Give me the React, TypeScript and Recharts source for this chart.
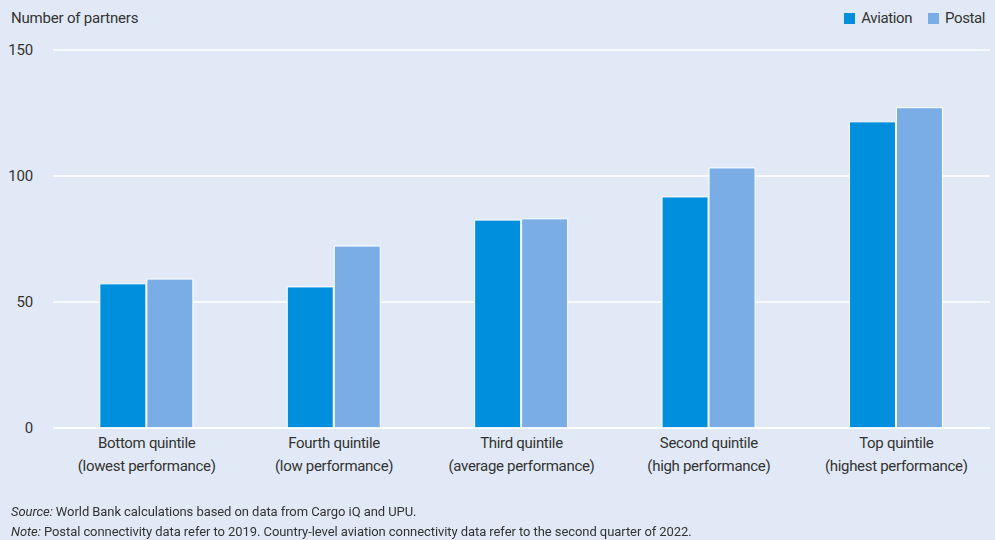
import { Bar, BarChart, CartesianGrid, XAxis, YAxis } from "recharts";

const categories = [
  ["Bottom quintile", "(lowest performance)"],
  ["Fourth quintile", "(low performance)"],
  ["Third quintile", "(average performance)"],
  ["Second quintile", "(high performance)"],
  ["Top quintile", "(highest performance)"],
];
const aviation = [57.2, 56, 82.5, 91.7, 121.5];
const postal = [59.1, 72.2, 83, 103.2, 127.1];
const yTicks = [0, 50, 100, 150];

const data = categories.map((c, i) => ({
  name: c.join("\n"),
  aviation: aviation[i],
  postal: postal[i],
}));

const FONT = "Roboto, 'Liberation Sans', sans-serif";
const TEXT = "#333";

function CategoryTick({ x, y, payload }: any) {
  const lines = String(payload.value).split("\n");
  return (
    <text x={x} y={y} textAnchor="middle" fill={TEXT} fontSize={15} fontFamily={FONT} letterSpacing={-0.3}>
      {lines.map((l, i) => (
        <tspan key={i} x={x} dy={i === 0 ? 12 : 23}>
          {l}
        </tspan>
      ))}
    </text>
  );
}

export default function App() {
  return (
    <div
      style={{
        position: "fixed",
        left: 0,
        top: 0,
        width: 995,
        height: 540,
        background: "#e1e9f6",
        fontFamily: FONT,
        color: TEXT,
        letterSpacing: -0.2,
      }}
    >
      <div style={{ position: "absolute", left: 11, top: 9, fontSize: 15 }}>Number of partners</div>
      <div
        style={{
          position: "absolute",
          right: 10,
          top: 9,
          fontSize: 15,
          display: "flex",
          alignItems: "center",
          letterSpacing: -0.4,
        }}
      >
        <span style={{ width: 11, height: 11, background: "#008fdd", marginRight: 6 }} />
        <span style={{ marginRight: 16 }}>Aviation</span>
        <span style={{ width: 11, height: 11, background: "#7aade5", marginRight: 6 }} />
        <span>Postal</span>
      </div>
      <BarChart
        width={995}
        height={480}
        data={data}
        margin={{ top: 50, right: 5, bottom: 0, left: 0 }}
        barCategoryGap="25%"
        barGap={1}
      >
        <CartesianGrid vertical={false} stroke="#ffffff" strokeWidth={1.5} />
        <YAxis
          domain={[0, 150]}
          ticks={yTicks}
          width={53}
          axisLine={false}
          tickLine={false}
          tickMargin={14}
          tick={{ fill: TEXT, fontSize: 15, fontFamily: FONT }}
        />
        <XAxis
          dataKey="name"
          height={52}
          axisLine={{ stroke: "#ffffff", strokeWidth: 1.5 }}
          tickLine={false}
          interval={0}
          tick={<CategoryTick />}
        />
        <Bar dataKey="aviation" fill="#008fdd" stroke="#ffffff" strokeWidth={1} isAnimationActive={false} />
        <Bar dataKey="postal" fill="#7aade5" stroke="#ffffff" strokeWidth={1} isAnimationActive={false} />
      </BarChart>
      <div
        style={{ position: "absolute", left: 11, top: 502, fontSize: 13, lineHeight: "20px", letterSpacing: -0.07 }}
      >
        <div>
          <i>Source:</i> World Bank calculations based on data from Cargo iQ and UPU.
        </div>
        <div>
          <i>Note:</i> Postal connectivity data refer to 2019. Country-level aviation connectivity data refer to the second
          quarter of 2022.
        </div>
      </div>
    </div>
  );
}
